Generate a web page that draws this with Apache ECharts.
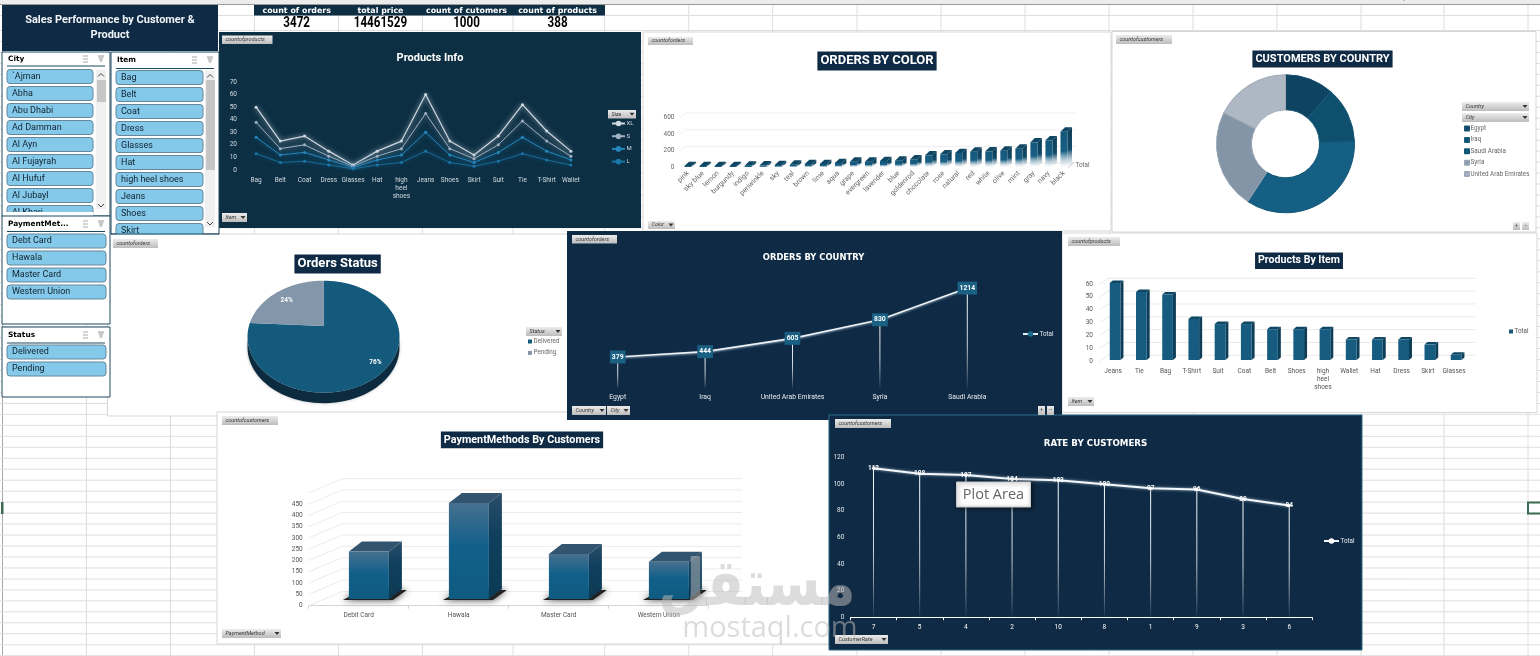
<!DOCTYPE html>
<html><head><meta charset="utf-8">
<style>html,body{margin:0;padding:0;background:#fff;overflow:hidden}#c{width:1540px;height:656px}</style>
<script src="https://cdn.jsdelivr.net/npm/echarts@6/dist/echarts.min.js"></script>
</head><body><div id="c"></div>
<script>
// ---------- data ----------
const itemCategories = ['Bag','Belt','Coat','Dress','Glasses','Hat','high\nheel\nshoes','Jeans','Shoes','Skirt','Suit','Tie','T-Shirt','Wallet'];
const sizeXL = [50,23,27,15,4,15,23,60,23,12,27,52,31,15];
const sizeS  = [38,17,20,11,3,11,17,45,17,9,20,39,23,11];
const sizeM  = [26,12,14,8,2,8,12,30,12,6,14,26,15,8];
const sizeL  = [13,6,7,4,1,4,6,15,6,3,7,13,8,4];
const colorCategories = ['pink','sky blue','lemon','burgundy','indigo','periwinkle','sky','teal','brown','lime','aqua','grape','evergreen','lavender','blue','goldenrod','chocolate','rose','natural','red','white','olive','mint','gray','navy','black'];
const colorOrders = [16,16,16,16,20,24,28,32,40,40,52,68,68,76,80,96,144,156,172,188,192,200,224,300,324,428];
const colorTicks = [0,200,400,600];
const customerCountries = ['Egypt','Iraq','Saudi Arabia','Syria','United Arab Emirates'];
const customersByCountry = [114,130,348,232,176];
const statusNames = ['Delivered','Pending'];
const statusOrders = [76,24];
const countryCategories = ['Egypt','Iraq','United Arab Emirates','Syria','Saudi Arabia'];
const countryOrders = [379,444,605,830,1214];
const productCategories = ['Jeans','Tie','Bag','T-Shirt','Suit','Coat','Belt','Shoes','high\nheel\nshoes','Wallet','Hat','Dress','Skirt','Glasses'];
const productCounts = [60,53,51,32,28,28,24,24,24,16,16,16,12,4];
const productTicks = [0,10,20,30,40,50,60];
const paymentCategories = ['Debit Card','Hawala','Master Card','Western Union'];
const paymentCustomers = [210,425,200,165];
const paymentTicks = [0,50,100,150,200,250,300,350,400,450,500];
const rateCategories = ['7','5','4','2','10','8','1','9','3','6'];
const rateCustomers = [112,108,107,104,103,100,97,96,89,84];
const kpiHeaders = ['count of orders','total price','count of cutomers','count of products'];
const kpiValues = ['3472','14461529','1000','388'];
const citySlicer = ['`Ajman','Abha','Abu Dhabi','Ad Damman','Al Ayn','Al Fujayrah','Al Hufuf','Al Jubayl','Al Kharj'];
const itemSlicer = ['Bag','Belt','Coat','Dress','Glasses','Hat','high heel shoes','Jeans','Shoes','Skirt'];
const paymentSlicer = ['Debt Card','Hawala','Master Card','Western Union'];
const statusSlicer = ['Delivered','Pending'];
const columnLetters = ['A','B','C','D','E','F','G','H','I','J','K','L','M','N','O','P','Q','R'];

// ---------- layout helpers ----------
const NAVY='#0f2a44', TEAL='#0c2f43', BOLDF='Roboto,sans-serif', WIDE='"DejaVu Sans",sans-serif';
const g=[];
const rect=(x,y,w,h,fill,o={})=>g.push(Object.assign({type:'rect',shape:{x,y,width:w,height:h,r:o.r||0},style:{fill,stroke:o.stroke||null,lineWidth:o.lw||0,shadowBlur:o.blur||0,shadowColor:o.sc||'transparent',shadowOffsetY:o.blur?1:0,shadowOffsetX:o.blur?1:0},silent:true,z:o.z==null?-10:o.z}));
const txt=(x,y,text,o={})=>g.push({type:'text',x,y,scaleX:o.sx||1,scaleY:o.sy||1,silent:true,z:o.z==null?5:o.z,style:{text,fill:o.c||'#222',font:o.font||'7px Roboto,sans-serif',textAlign:o.a||'left',textVerticalAlign:'middle'}});
const poly=(pts,fill,z)=>g.push({type:'polygon',shape:{points:pts},style:{fill},silent:true,z});
const line=(x1,y1,x2,y2,c,lw,z)=>g.push({type:'line',shape:{x1,y1,x2,y2},style:{stroke:c,lineWidth:lw||1},silent:true,z:z==null?-20:z});
const pillFill={type:'linear',x:0,y:0,x2:0,y2:1,colorStops:[{offset:0,color:'#ececec'},{offset:1,color:'#bcbcbc'}]};
function pill(x1,y1,x2,y2,text,arrow){
  rect(x1,y1,x2-x1,y2-y1,pillFill,{z:6});
  if(text) txt(x1+3.5,(y1+y2)/2,text,{font:'italic 5.5px Roboto,sans-serif',c:'#333',z:7});
  if(arrow){const ax=x2-6.5,ay=(y1+y2)/2-1.4;poly([[ax,ay],[ax+5,ay],[ax+2.5,ay+3]],'#333',7);}
}

// spreadsheet sheet
const colX=[2.5,86.5,170.5,254.5,338.5,422.5,513,604.7,688.7,772.7,857,941,1025,1109,1193,1277,1361,1444,1528];
colX.forEach(x=>line(x,4,x,656,'#dedede',1));
line(2.5,4,2.5,656,'#a8a8a8',1);
[4.5,15.5,30.5].forEach(y=>line(0,y,1540,y,'#dedede',1));
for(let y=41.4;y<656;y+=10.97) line(0,y,1540,y,'#dedede',1);
rect(0,0,1540,4,'#ececec',{z:-15});
line(0,4.5,1540,4.5,'#9a9a9a',1,-14);
columnLetters.forEach((L,i)=>txt((colX[i]+colX[i+1])/2,-1.6,L,{a:'center',font:'8px Roboto,sans-serif',c:'#555',z:-13}));
rect(1,502,2.5,12,'#3b6b52',{z:-14});
rect(1528,502.5,14,11,'#fff',{stroke:'#3b6b52',lw:2,z:-14});

// panels (order = stacking)
const W='#ffffff',B='#d6d6d6';
rect(643,32,468,199,W,{stroke:B,lw:1});
rect(1112,31.5,424,200.5,W,{stroke:B,lw:1});
rect(107.5,234,460,182,W,{stroke:B,lw:1});
rect(1062,233,475,179.5,W,{stroke:B,lw:1});
rect(217,412,612,232,W,{stroke:B,lw:1});
rect(219,32,422,196,TEAL);
rect(567,231,495,189,NAVY);
rect(829,415,533,235,NAVY,{stroke:'#2a6a8a',lw:1});

// headline box + KPI strip
rect(2,5,216,46,NAVY,{z:8});
txt(110,20.5,'Sales Performance by Customer &',{a:'center',font:'bold 11.5px '+BOLDF,c:'#f2f5f8',z:9,sx:.955});
txt(110,35.5,'Product',{a:'center',font:'bold 11.5px '+BOLDF,c:'#f2f5f8',z:9,sx:.955});
rect(254,5,351,10.5,'#0e2e44',{z:4});
[296.7,380.4,466.5,557.6].forEach((x,i)=>{
  txt(x,10.6,kpiHeaders[i],{a:'center',font:'bold 7.9px '+WIDE,c:'#fff'});
  txt(x,23,kpiValues[i],{a:'center',font:'bold 14px '+BOLDF,c:'#000',sx:.83});
});

// slicers
function slicer(x,y,w,h,title,items,bx,bw,by,headerY,lineY,scroll,zb){
  rect(x,y,w,h,'#fff',{stroke:'#1c4a60',lw:1,z:zb});
  txt(x+6,headerY,title,{font:'bold 7.4px '+WIDE,c:'#000',z:zb+1});
  line(x+5,lineY,x+w-5,lineY,'#1c4a60',1,zb+1);
  for(let k=0;k<3;k++){line(x+w-27,headerY-3+k*3,x+w-22,headerY-3+k*3,'#a9a9a9',1,zb+1);line(x+w-12,headerY-3,x+w-6,headerY-3,'#c4c4c4',1,zb+1);}
  poly([[x+w-12,headerY-3],[x+w-6,headerY-3],[x+w-8,headerY+3],[x+w-10,headerY+3]],'#c8c8c8',zb+1);
  items.forEach((t,i)=>{
    const yy=by+i*17;
    rect(bx,yy,bw,14,'#85c9ea',{stroke:'#64879a',lw:1,r:3,z:zb+1});
    txt(bx+5,yy+7,t,{font:'9px Roboto,sans-serif',c:'#10222e',z:zb+2});
  });
  if(scroll){
    rect(x+w-14,by,10,h-(by-y)-7,'#f0f0f0',{z:zb+1});
    rect(x+w-13,scroll[0],9,scroll[1],'#c6c6c6',{z:zb+2});
    const sx=x+w-9;
    line(sx-3,by+7,sx,by+4,'#444',1,zb+3);line(sx,by+4,sx+3,by+7,'#444',1,zb+3);
    const b=y+h-12;line(sx-3,b,sx,b+3,'#444',1,zb+3);line(sx,b+3,sx+3,b,'#444',1,zb+3);
  }
}
slicer(2,52,108,164,'City',citySlicer,7,86,69.5,59,66,[80,22],20);
rect(3,212,90.5,5,'#fff',{z:24});
slicer(111,52,108,182,'Item',itemSlicer,116,87,70.5,60,68.5,[80,90],20);
rect(112,234.5,106,4,'#fff',{z:24});
line(111,234,219,234,'#1c4a60',1,24);
slicer(2,216,108,108,'PaymentMet...',paymentSlicer,7,99,234,224,231.5,null,25);
slicer(2,327,108,70,'Status',statusSlicer,7,99,345,335,343,null,25);

// field buttons
pill(222,35.5,272.5,44,'countofproducts');pill(222,213,247,222,'Item',true);pill(608,110,636,118.5,'Size',true);
pill(648,37,693,45,'countoforders');pill(648,221,675,229,'Color',true);
pill(1116,35,1172,44,'countofcustomers');pill(1462,102,1529,111,'Country',true);pill(1462,113,1529,122,'City',true);
pill(1513,222,1520,230,'');pill(1522,222,1529,230,'');
txt(1516.5,226,'+',{a:'center',z:8,c:'#666'});txt(1525.5,226,'−',{a:'center',z:8,c:'#666'});
pill(113,239,158,248,'countoforders');pill(526,327,562,336,'Status',true);
pill(572,235,617,243.5,'countoforders');pill(572,406,606,415,'Country',true);pill(607,406,630,415,'City',true);
pill(1038,406,1045,415,'');pill(1047,406,1054,415,'');
txt(1041.5,410.5,'+',{a:'center',z:8,c:'#666'});txt(1050.5,410.5,'−',{a:'center',z:8,c:'#666'});
pill(1068,237,1120,246,'countofproducts');pill(1068,397,1094,406,'Item',true);
pill(222,416,278,425,'countofcustomers');pill(222,629,281,638,'PaymentMethod',true);
pill(835,419,891,428,'countofcustomers');pill(835,635,888,644,'CustomerRate',true);

// Plot Area tooltip + watermark
rect(956.5,482,74,25,'#fff',{stroke:'#c8c8c8',lw:1,z:30,blur:4,sc:'rgba(0,0,0,.55)'});
txt(993.5,495,'Plot Area',{a:'center',font:'14.5px "Open Sans",sans-serif',c:'#666',z:31});
txt(757,588,'مستقل',{a:'center',font:'bold 54px '+WIDE,c:'rgba(188,188,188,.52)',z:40,sy:1.2});
txt(770,629,'mostaql.com',{a:'center',font:'29px "Open Sans",sans-serif',c:'rgba(188,188,188,.52)',z:40});

// ---------- renderers ----------
function wall(dx,dy,color){
  return (p,api)=>{
    const cs=p.coordSys, y=api.coord([0,api.value(1)])[1];
    const st={stroke:color,lineWidth:1,fill:null};
    return {type:'group',children:[
      {type:'line',shape:{x1:cs.x,y1:y,x2:cs.x+dx,y2:y+dy},style:st},
      {type:'line',shape:{x1:cs.x+dx,y1:y+dy,x2:cs.x+cs.width+dx,y2:y+dy},style:st}
    ]};
  };
}
function bar3d(o){
  return (p,api)=>{
    const i=api.value(0), base=api.coord([i,0]), top=api.coord([i,api.value(1)]);
    const x0=base[0]+o.sx-o.w/2, x1=x0+o.w, yb=base[1]+o.sy, yt=top[1]+o.sy, dx=o.dx, dy=o.dy;
    const kids=[];
    if(o.shadow) kids.push({type:'polygon',shape:{points:[[x0-6,yb+1],[x1+4,yb+1],[x1+dx+5,yb+dy+1],[x0+dx,yb+dy+1]]},style:{fill:'#222',shadowBlur:7,shadowColor:'#333'}});
    kids.push({type:'polygon',shape:{points:[[x1,yb],[x1+dx,yb+dy],[x1+dx,yt+dy],[x1,yt]]},style:{fill:o.side}});
    kids.push({type:'polygon',shape:{points:[[x0,yt],[x1,yt],[x1+dx,yt+dy],[x0+dx,yt+dy]]},style:{fill:o.top}});
    kids.push({type:'rect',shape:{x:x0,y:yt,width:o.w,height:Math.max(yb-yt,0)},style:{fill:o.front}});
    return {type:'group',children:kids};
  };
}
const vGrad=stops=>({type:'linear',x:0,y:0,x2:0,y2:1,colorStops:stops.map(s=>({offset:s[0],color:s[1]}))});

// elliptical tilted pie
const PIE={cx:323.5,cy:336.7,rx:76,ry:56,ax:323.5,ay:326,k:50,depth:10.5};
function piePoint(theta,frac){
  const s=Math.sin(theta),c=Math.cos(theta);
  const ay=(PIE.ay-PIE.cy)/PIE.ry, ddx=s, ddy=-(PIE.k/PIE.ry)*c;
  const A=ddx*ddx+ddy*ddy,Bq=2*ay*ddy,C=ay*ay-1;
  const t=(-Bq+Math.sqrt(Bq*Bq-4*A*C))/(2*A)*(frac==null?1:frac);
  return [PIE.ax+PIE.rx*ddx*t, PIE.ay+PIE.ry*ddy*t];
}
function wedge(startShare,share,color,darkColor,labelFrac){
  return ()=>{
    const a0=startShare*2*Math.PI, a1=(startShare+share)*2*Math.PI, pts=[[PIE.ax,PIE.ay]], rim=[];
    for(let i=0;i<=90;i++){const p=piePoint(a0+(a1-a0)*i/90);pts.push(p);rim.push(p);}
    const kids=[];
    if(darkColor){
      const front=rim.filter(p=>p[1]>PIE.cy-3);
      const side=front.concat(front.slice().reverse().map(p=>[p[0],p[1]+PIE.depth]));
      kids.push({type:'polygon',shape:{points:side},style:{fill:darkColor,shadowBlur:3,shadowColor:'rgba(0,0,0,.3)'}});
    }
    kids.push({type:'polygon',shape:{points:pts},style:{fill:color}});
    const lp=piePoint((a0+a1)/2,labelFrac);
    kids.push({type:'text',style:{text:Math.round(share*100)+'%',x:lp[0],y:lp[1],fill:'#fff',font:'bold 6.5px Roboto,sans-serif',textAlign:'center',textVerticalAlign:'middle'}});
    return {type:'group',children:kids};
  };
}
const statusTotal=statusOrders.reduce((a,b)=>a+b,0);

// ---------- axes ----------
const catAxis=(gridIndex,data,o={})=>({type:'category',gridIndex,data,
  axisLine:{show:!!o.line,lineStyle:{color:o.line||'#ccc',width:o.lw||1}},axisTick:{show:!!o.tick,lineStyle:{color:o.line},length:3,alignWithLabel:false},
  splitLine:{show:false},
  axisLabel:{interval:0,color:o.color||'#555',fontSize:o.fs||6.5,fontFamily:'Roboto,sans-serif',margin:o.margin==null?6:o.margin,lineHeight:8,rotate:o.rotate||0,hideOverlap:false}});
const valAxis=(gridIndex,max,interval,o={})=>({type:'value',gridIndex,min:0,max,interval,show:o.show!==false,
  axisLine:{show:false},axisTick:{show:false},splitLine:{show:false},
  axisLabel:{color:o.color||'#555',fontSize:6.5,margin:o.margin==null?6:o.margin,showMaxLabel:o.showMax!==false,fontFamily:'Roboto,sans-serif'}});

const grids=[
 {left:244,top:82,width:339,height:88},
 {left:680.5,top:117.3,width:391,height:50},
 {left:574,top:272.7,width:437,height:115.6},
 {left:1100,top:284,width:367.2,height:77},
 {left:308.7,top:492.9,width:400,height:112.8},
 {left:850.4,top:457.7,width:461.9,height:159.5}
];
const xs=[
 catAxis(0,itemCategories,{color:'#d3dde4',margin:6}),
 catAxis(1,colorCategories,{rotate:45,color:'#666',margin:5,fs:7}),
 catAxis(2,countryCategories,{color:'#e6ebf0',margin:5,fs:6.8}),
 catAxis(3,productCategories,{color:'#555',margin:6}),
 catAxis(4,paymentCategories,{line:'#d4d4d4',tick:true,color:'#555',margin:6}),
 catAxis(5,rateCategories,{line:'#ffffff',lw:1,tick:true,color:'#fff',margin:6})
];
const ys=[
 valAxis(0,70,10,{color:'#d3dde4',margin:7}),
 valAxis(1,600,200,{color:'#666',margin:6}),
 valAxis(2,1400,200,{show:false}),
 valAxis(3,60,10,{color:'#555',margin:7}),
 valAxis(4,500,50,{color:'#555',margin:6,showMax:false}),
 valAxis(5,120,20,{color:'#e6ebf0',margin:6})
];

// ---------- series ----------
const sizeLine=(name,data,color,w,glow)=>({type:'line',name,xAxisIndex:0,yAxisIndex:0,data,symbol:'circle',symbolSize:3,showSymbol:true,
  itemStyle:{color},lineStyle:{color,width:w,shadowBlur:glow,shadowColor:color}});
const drop=(axis,data)=>({type:'bar',name:'drop'+axis,xAxisIndex:axis,yAxisIndex:axis,data,barWidth:1,silent:true,z:1,
  itemStyle:{color:vGrad([[0,'#ffffff'],[0.55,'#c9d3dd'],[1,'rgba(255,255,255,0.05)']])}});
const indexed=v=>v.map((x,i)=>[i,x]);
const series=[
 sizeLine('XL',sizeXL,'#cfd8e0',1.2,5),
 sizeLine('S',sizeS,'#9eb0c1',1,5),
 sizeLine('M',sizeM,'#2487bd',1,5),
 sizeLine('L',sizeL,'#1a77aa',.8,4),

 {type:'custom',name:'wallColor',xAxisIndex:1,yAxisIndex:1,data:colorTicks.map(t=>[0,t]),renderItem:wall(4.5,-4.3,'#efefef'),silent:true,z:1,clip:false},
 {type:'custom',name:'Total (orders by color)',xAxisIndex:1,yAxisIndex:1,data:indexed(colorOrders),encode:{x:0,y:1},itemStyle:{color:'#bbb'},clip:false,
  renderItem:bar3d({w:7,sx:0,sy:0,dx:4.5,dy:-4.3,side:vGrad([[0,'#0e3c56'],[.55,'#104a69'],[1,'rgba(255,255,255,0.3)']]),top:'#0e4663',
   front:vGrad([[0,'#14587b'],[.55,'#185f84'],[1,'rgba(255,255,255,0.35)']])})},

 {type:'pie',name:'Customers by country',center:[1285.5,143.8],radius:[34,69],startAngle:90,clockwise:true,
  label:{show:false},labelLine:{show:false},silent:true,
  data:customerCountries.map((n,i)=>({name:n,value:customersByCountry[i],itemStyle:{color:['#0e4461','#0f4f6e','#155f84','#8495a8','#aeb8c4'][i],borderColor:['#16506f','#1a5a79','#125674','#96a4b4','#9da9b6'][i],borderWidth:1}}))},

 {type:'custom',name:statusNames[0],coordinateSystem:'none',data:[statusOrders[0]],itemStyle:{color:'#145a7c'},silent:true,
  renderItem:wedge(0,statusOrders[0]/statusTotal,'#145a7c','#0c2b3f',.84)},
 {type:'custom',name:statusNames[1],coordinateSystem:'none',data:[statusOrders[1]],itemStyle:{color:'#8496a9'},silent:true,
  renderItem:wedge(statusOrders[0]/statusTotal,statusOrders[1]/statusTotal,'#8496a9',null,.78)},

 drop(2,countryOrders),
 {type:'line',name:'Total (orders by country)',xAxisIndex:2,yAxisIndex:2,data:countryOrders,symbol:'circle',symbolSize:4,z:3,
  itemStyle:{color:'#1a6a90'},lineStyle:{color:'#eef2f5',width:1.6,shadowBlur:2,shadowColor:'#7f97ad',shadowOffsetY:1},
  label:{show:true,position:'inside',color:'#fff',fontSize:6.8,fontWeight:'bold',backgroundColor:'#1a6083',padding:[3,2],fontFamily:'Roboto,sans-serif'}},

 {type:'custom',name:'wallProducts',xAxisIndex:3,yAxisIndex:3,data:productTicks.map(t=>[0,t]),renderItem:wall(8,-5.7,'#e9e9e9'),silent:true,z:1,clip:false},
 {type:'custom',name:'Total (products by item)',xAxisIndex:3,yAxisIndex:3,data:indexed(productCounts),encode:{x:0,y:1},itemStyle:{color:'#14587b'},clip:false,
  renderItem:bar3d({w:10.7,sx:2,sy:-1,dx:3,dy:-2.5,side:'#0e3d57',top:'#0f4663',front:'#155c80'})},

 {type:'custom',name:'wallPayment',xAxisIndex:4,yAxisIndex:4,data:paymentTicks.map(t=>[0,t]),renderItem:wall(33.5,-14.2,'#ececec'),silent:true,z:1,clip:false},
 {type:'custom',name:'paymentBars',xAxisIndex:4,yAxisIndex:4,data:indexed(paymentCustomers),encode:{x:0,y:1},itemStyle:{color:'#14587b'},clip:false,
  renderItem:bar3d({w:40,sx:10.2,sy:-6.7,dx:13,dy:-10,shadow:true,
   side:vGrad([[0,'#2a4e69'],[.4,'#0f3f5d'],[1,'#0c3a55']]),top:'#32546f',
   front:vGrad([[0,'#47708f'],[.45,'#12608a'],[1,'#0f5a80']])})},

 drop(5,rateCustomers),
 {type:'line',name:'Total (rate)',xAxisIndex:5,yAxisIndex:5,data:rateCustomers,symbol:'circle',symbolSize:3,z:3,
  itemStyle:{color:'#ffffff'},lineStyle:{color:'#f4f7fa',width:2,shadowBlur:3,shadowColor:'#9fb7cc'},
  label:{show:true,position:'inside',color:'#fff',fontSize:6.5,fontWeight:'bold',fontFamily:'Roboto,sans-serif'}}
];

// ---------- legends + titles ----------
const totalFmt=()=>'Total';
const lg=(left,top,data,o={})=>({left,top,data,orient:'vertical',selectedMode:false,itemWidth:o.iw||4,itemHeight:o.ih||4,itemGap:o.gap==null?5:o.gap,padding:0,
  textStyle:{color:o.c||'#666',fontSize:o.fs||6.3,padding:[0,0,0,-3.5],fontFamily:'Roboto,sans-serif'},icon:o.icon,formatter:o.fmt});
const legends=[
 lg(611,120.5,['XL','S','M','L'],{iw:13,ih:7,gap:6.7,c:'#d3dde4',fs:6}),
 lg(1068,162,['Total (orders by color)'],{fmt:totalFmt,iw:6,ih:6,icon:'path://M0 10 L10 0 L10.8 .8 L.8 10.8Z',c:'#666'}),
 lg(1464,125.5,customerCountries,{icon:'rect',gap:5.4}),
 lg(528,338.5,statusNames,{icon:'rect',gap:5.4}),
 lg(1022,331,['Total (orders by country)'],{fmt:totalFmt,iw:15,ih:7,c:'#e6ebf0'}),
 lg(1509,328.5,['Total (products by item)'],{fmt:totalFmt,icon:'rect',c:'#555'}),
 lg(1323,538,['Total (rate)'],{fmt:totalFmt,iw:15,ih:7,c:'#e6ebf0'})
];
const tt=(x,y,text,fs,bg,o={})=>{const pad=o.pad||[0,0];return {text,left:x-pad[1],top:y,textAlign:'center',padding:pad,backgroundColor:bg||'transparent',z:6,
  textStyle:{color:'#fff',fontSize:fs,fontWeight:'bold',fontFamily:o.ff||'Roboto,sans-serif',lineHeight:fs+2}};};
const titles=[
 tt(430,51.5,'Products Info',11),
 tt(877,51.5,'ORDERS BY COLOR',13,NAVY,{pad:[2,3]}),
 tt(1322.5,50.5,'CUSTOMERS BY COUNTRY',11,NAVY,{pad:[2,3]}),
 tt(337.6,254.5,'Orders Status',13,NAVY,{pad:[2,3]}),
 tt(813.5,253,'ORDERS BY COUNTRY',8.4,null,{ff:WIDE}),
 tt(1299,252.5,'Products By Item',10.6,NAVY,{pad:[2,3]}),
 tt(522,431.5,'PaymentMethods By Customers',10.8,NAVY,{pad:[2,3]}),
 tt(1095.5,438.5,'RATE BY CUSTOMERS',8.7,null,{ff:WIDE})
];

const chart=echarts.init(document.getElementById('c'),null,{renderer:'canvas',width:1540,height:656});
chart.setOption({animation:false,backgroundColor:'#fff',tooltip:{show:false},
  title:titles,legend:legends,grid:grids,xAxis:xs,yAxis:ys,series,graphic:{elements:g}});
</script></body></html>
